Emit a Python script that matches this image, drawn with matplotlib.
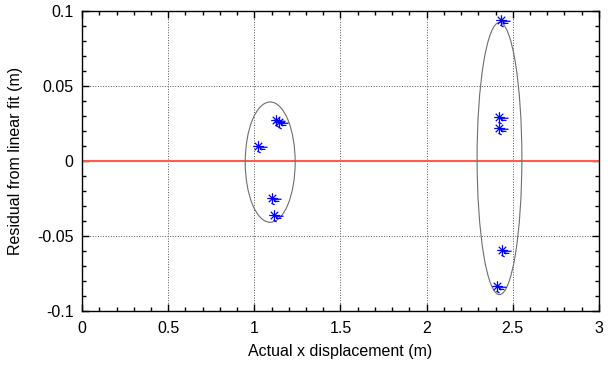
import matplotlib
matplotlib.use("Agg")
import matplotlib.pyplot as plt
import numpy as np
from matplotlib.patches import Ellipse
from matplotlib.path import Path
from matplotlib.ticker import MultipleLocator, FixedFormatter, FixedLocator

plt.rcParams['font.family'] = ['Liberation Sans', 'DejaVu Sans']

# measured points (actual x, residual)
x_actual = [1.022, 1.105, 1.115, 1.125, 1.144, 2.429, 2.420, 2.418, 2.440, 2.410]
residual = [0.0103, -0.0248, -0.0361, 0.0272, 0.0260, 0.0939, 0.0292, 0.0217, -0.0592, -0.0830]

# uncertainty ellipses: centre x, centre y, full width, full height
ell_cx = [1.092, 2.423]
ell_cy = [-0.0007, 0.0017]
ell_w = [0.29, 0.26]
ell_h = [0.080, 0.181]

xticks = [0, 0.5, 1, 1.5, 2, 2.5, 3]
xtick_labels = ['0', '0.5', '1', '1.5', '2', '2.5', '3']
yticks = [-0.1, -0.05, 0, 0.05, 0.1]
ytick_labels = ['-0.1', '-0.05', '0', '0.05', '0.1']

# asterisk with a short tail (looks like the overlapping marks in the original)
verts, codes = [], []
for a in np.arange(0, np.pi, np.pi / 4):
    verts += [(-np.cos(a), -np.sin(a)), (np.cos(a), np.sin(a))]
    codes += [Path.MOVETO, Path.LINETO]
verts += [(0.2, -0.1), (1.7, -0.15), (0.3, -0.5), (1.3, -0.55), (-0.2, -0.9), (0.4, -1.2)]
codes += [Path.MOVETO, Path.LINETO] * 3
star = Path(verts, codes)

fig = plt.figure(figsize=(6.08, 3.69), dpi=100)
ax = fig.add_axes([0.135, 0.156, 0.850, 0.815])

ax.axhline(0, color='#ff5a5a', lw=1.5, zorder=2)

for cx, cy, w, h in zip(ell_cx, ell_cy, ell_w, ell_h):
    ax.add_patch(Ellipse((cx, cy), w, h, fill=False, ec='#6e6e6e', lw=0.8, zorder=3))

ax.plot(x_actual, residual, ls='none', marker=star, ms=13, mec='blue',
        mew=0.9, zorder=4)

ax.set_xlim(0, 3)
ax.set_ylim(-0.1, 0.1)
ax.xaxis.set_major_locator(FixedLocator(xticks))
ax.xaxis.set_major_formatter(FixedFormatter(xtick_labels))
ax.yaxis.set_major_locator(FixedLocator(yticks))
ax.yaxis.set_major_formatter(FixedFormatter(ytick_labels))
ax.xaxis.set_minor_locator(MultipleLocator(0.1))
ax.yaxis.set_minor_locator(MultipleLocator(0.01))
ax.tick_params(which='both', direction='in', top=True, right=True, labelsize=11.5,
               width=1.0, colors='black')
ax.tick_params(which='major', length=5)
ax.tick_params(which='minor', length=3)
ax.tick_params(axis='x', which='major', pad=7)
ax.tick_params(axis='y', which='major', pad=6)
ax.grid(True, which='major', ls=':', color='#555555', lw=0.7)
for s in ax.spines.values():
    s.set_linewidth(1.0)

ax.set_xlabel('Actual x displacement (m)', fontsize=11.5, labelpad=6)
ax.set_ylabel('Residual from linear fit (m)', fontsize=11.5, labelpad=10)

fig.savefig('out.png', dpi=100)
